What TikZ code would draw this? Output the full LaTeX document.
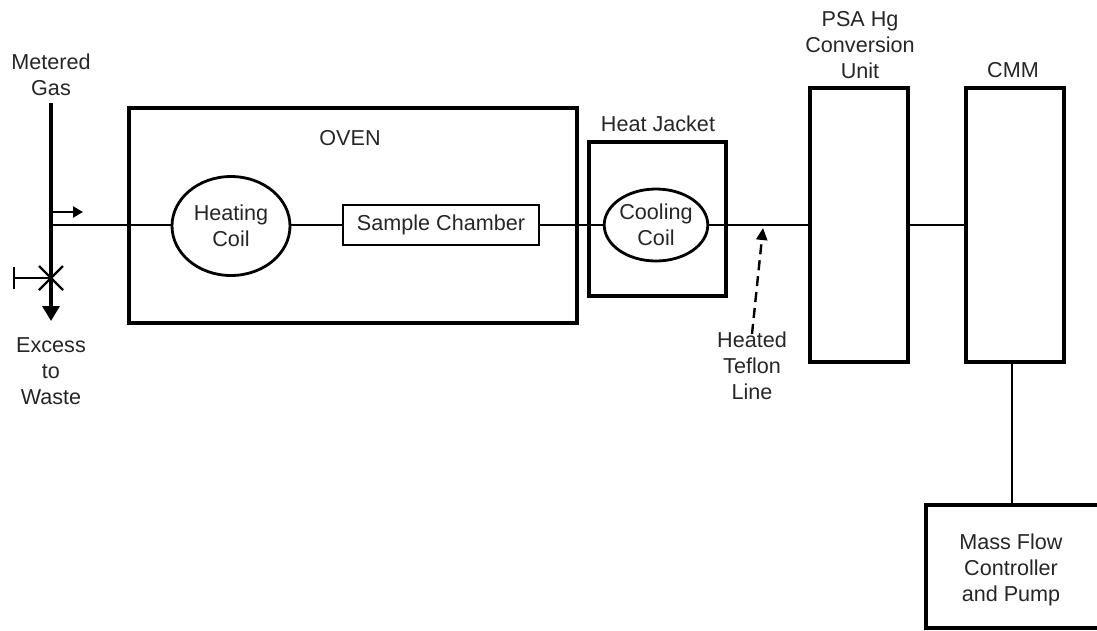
\documentclass[tikz,border=0pt]{standalone}
\usepackage{fontspec}
\setmainfont{Liberation Sans}
\usetikzlibrary{arrows.meta,shapes.geometric}
\begin{document}
\begin{tikzpicture}[x=1pt,y=-1pt,
  txt/.style={font=\fontsize{21.6}{26}\selectfont, text=black!85, align=center, inner sep=0pt},
  bigbox/.style={draw, line width=3.4pt, inner sep=0pt},
  coil/.style={draw, ellipse, line width=2.8pt, inner sep=0pt, txt},
  chamber/.style={draw, rectangle, line width=2.4pt, inner sep=0pt, txt},
  pipe/.style={line width=2pt},
  feed/.style={line width=3.2pt},
  tiparrow/.style={-{Triangle[length=15pt,width=17pt]}},
  smallarrow/.style={line width=2.4pt,-{Triangle[length=10pt,width=11pt]}},
  dasharrow/.style={line width=2.4pt, dash pattern=on 10pt off 6pt, -{Triangle[length=12pt,width=11pt]}}
]
\useasboundingbox (0,0) rectangle (1097,630);

% boxes
\node[bigbox, minimum width=448pt, minimum height=215pt] (oven) at (353,215.5) {};
\node[txt] (ovenlbl) at (350,138) {OVEN};
\node[coil, minimum width=118pt, minimum height=99pt] (heat) at (231,226) {Heating\\Coil};
\node[chamber, minimum width=196pt, minimum height=40pt] (sample) at (441,225) {Sample Chamber};
\node[bigbox, minimum width=137pt, minimum height=154pt] (jacket) at (657.5,219) {};
\node[txt] (jacketlbl) at (658,124) {Heat Jacket};
\node[coil, minimum width=100pt, minimum height=72pt] (cool) at (656,225) {Cooling\\Coil};
\node[bigbox, minimum width=98pt, minimum height=274pt] (psa) at (859,225) {};
\node[txt] (psalbl) at (860,45) {PSA Hg\\Conversion\\Unit};
\node[bigbox, minimum width=98pt, minimum height=274pt] (cmm) at (1015,225) {};
\node[txt] (cmmlbl) at (1013,70) {CMM};
\node[bigbox, minimum width=178pt, minimum height=123pt] (mass) at (1015,566.5) {};
\node[txt] (masslbl) at (1011,570) {Mass Flow\\Controller\\and Pump};

% gas feed
\node[txt] (metered) at (51,75) {Metered\\Gas};
\node[txt] (excess) at (51,371) {Excess\\to\\Waste};
\coordinate (top) at (51,103);
\coordinate (junc) at (51,225);
\coordinate (valve) at (51,278);
\coordinate (bottom) at (51,321);
\coordinate (sa1) at (52,212);
\coordinate (sa2) at (83,212);
\coordinate (stem) at (14,278);

\draw[feed] (top) -- (valve);
\draw[feed, tiparrow] (valve) -- (bottom);
\draw[smallarrow] (sa1) -- (sa2);
\draw[line width=2.4pt] (valve) -- (stem);
\draw[line width=2.8pt] ([yshift=-11pt]stem) -- ([yshift=11pt]stem);
\draw[line width=2.4pt] ([xshift=-12pt,yshift=-12pt]valve) -- ([xshift=12pt,yshift=12pt]valve);
\draw[line width=2.4pt] ([xshift=-12pt,yshift=12pt]valve) -- ([xshift=12pt,yshift=-12pt]valve);

% pipes
\draw[line width=2.8pt] (junc) -- (junc -| heat.west);
\draw[pipe] (heat.east |- sample.west) -- (sample.west);
\draw[pipe] (sample.east) -- (sample.east -| cool.west);
\draw[pipe] (cool.east) -- (cool.east -| psa.west);
\draw[pipe] (psa.east |- cmm.west) -- (cmm.west);
\draw[line width=2.6pt] ([xshift=-3pt]cmm.south) -- ([xshift=-3pt]cmm.south |- mass.north);

% heated teflon line
\node[txt] (teflon) at (752,366) {Heated\\Teflon\\Line};
\coordinate (teftip) at (763,228);
\draw[dasharrow] ([yshift=-2pt]teflon.north) -- (teftip);
\end{tikzpicture}
\end{document}
